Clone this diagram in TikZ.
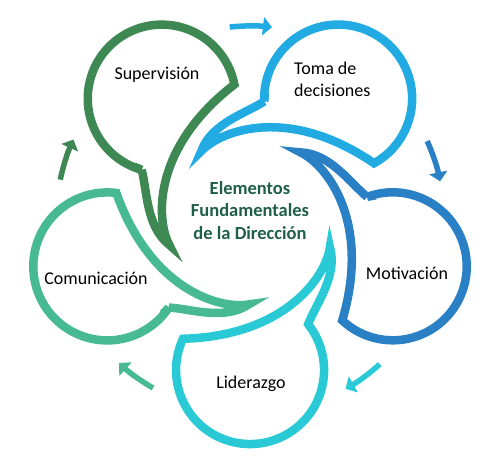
\documentclass[tikz,border=0pt]{standalone}
\usepackage{fontspec}
\setmainfont{Carlito}
\usepackage{tikz}
\usetikzlibrary{arrows.meta, positioning}

\definecolor{supgreen}{RGB}{62,136,83}
\definecolor{tomblue}{RGB}{33,171,226}
\definecolor{motblue}{RGB}{41,128,197}
\definecolor{lidcyan}{RGB}{41,202,214}
\definecolor{comteal}{RGB}{71,186,148}
\definecolor{hubgreen}{RGB}{30,95,70}

\begin{document}
\begin{tikzpicture}[x=1pt, y=1pt,
		bubble/.style={line width=8.5pt, line join=miter},
		turn/.style={-{Triangle[length=9pt, width=18pt]}, line width=5.5pt},
		stagetext/.style={font=\fontsize{18}{22}\selectfont, inner sep=0pt},
		hubtext/.style={font=\fontsize{18.5}{22.5}\selectfont\bfseries, text=hubgreen, align=center}]
	
		\useasboundingbox (0,0) rectangle (493,462);
		\coordinate (c) at (250,242);
		
		% bubbles with their tails swirling round the centre
		\foreach \a/\col in {126/supgreen, 54/tomblue, -18/motblue, -90/lidcyan, 198/comteal}
			\draw [bubble, draw=\col, shift={(c)}, rotate=\a]
				(104.3,58.2) arc [start angle=128.2, end angle=-115, radius=74]
				.. controls (116,35) and (57,75.7) .. (27.3,79.9)
				.. controls (56.1,88.2) and (85.5,65) .. cycle;
		
		% small turning arrows between the bubbles
		\foreach \m/\col [count=\i] in {90/tomblue, 18/motblue, -54/lidcyan, -126/comteal, 162/supgreen} {
			\coordinate (t\i) at ([shift={(\m+6:194)}]c);
			\draw [turn, color=\col] (t\i) arc [start angle=\m+6, end angle=\m-6.5, radius=194];
		}
		
		\node [hubtext]						(0) at (250,251.5)	{Elementos\\Fundamentales\\de la Dirección};
		\node [stagetext]					(1) at (157,387)	{Supervisión};
		\node [stagetext, align=left, anchor=west]	(2) at (294,383)	{Toma de\\decisiones};
		\node [stagetext]					(3) at (407,189)	{Motivación};
		\node [stagetext]					(4) at (251,78)		{Liderazgo};
		\node [stagetext]					(5) at (96,184)		{Comunicación};
	
\end{tikzpicture}
\end{document}
